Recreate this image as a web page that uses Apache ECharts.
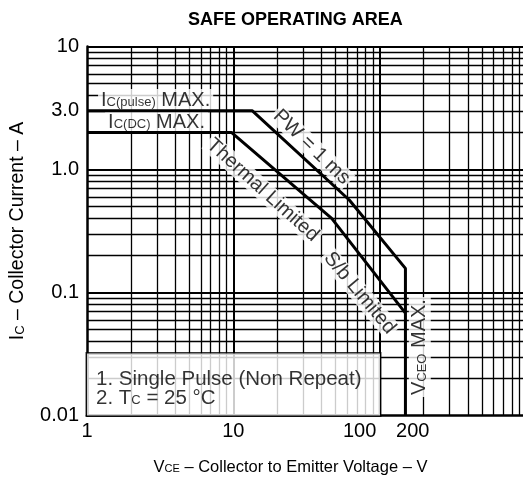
<!DOCTYPE html>
<html><head><meta charset="utf-8">
<script src="https://cdn.jsdelivr.net/npm/echarts@6/dist/echarts.min.js"></script>
<style>html,body{margin:0;padding:0;background:#fff}#c{width:523px;height:488px}</style>
</head><body><div id="c"></div>
<script>
const titleText = 'SAFE OPERATING AREA';
const xTickValues = [1, 10, 100, 200];
const xTickLabels = ['1', '10', '{l20|100}', '{l10|200}'];
const yTickValues = [0.01, 0.1, 1, 3, 10];
const yTickLabels = ['0.01', '0.1', '1.0', '3.0', '10'];
const xGridMinor = [2, 3, 4, 5, 6, 7, 8, 9, 20, 30, 40, 50, 60, 70, 80, 90, 200, 300, 400, 500, 600, 700, 800, 900];
const xGridMajor = [10, 100];
const yGridMinor = [0.02, 0.03, 0.04, 0.05, 0.06, 0.07, 0.08, 0.09, 0.2, 0.3, 0.4, 0.5, 0.6, 0.7, 0.8, 0.9, 2, 3, 4, 5, 6, 7, 8, 9];
const yGridMajor = [0.1, 1, 10];
// PW = 1 ms (pulse) boundary, ending in VCEO MAX vertical
const pulseV = [1, 13.5, 62, 150, 150];
const pulseI = [3.0, 3.0, 0.565, 0.157, 0.01];
// DC boundary (thermal limited, then S/b limited)
const dcV = [1, 9.7, 47, 150];
const dcI = [2.0, 2.0, 0.40, 0.068];
// annotations
const annoText = [
  '{m|I}{s|C(pulse)}{m| MAX.}',
  '{m|I}{s|C(DC)}{m| MAX.}',
  '{m|PW = 1 ms}',
  '{m|Thermal Limited}',
  '{m|S/b Limited}',
  '{m|V}{s|CEO}{m| MAX.}',
  '{n|1. Single Pulse (Non Repeat)}\n{n|2. T}{s|C}{n| = 25 °C}'
];
const annoV = [1.19, 1.33, 34.3, 15.9, 73, 188, 1];
const annoI = [3.67, 2.43, 1.52, 0.68, 0.099, 0.036, 0.01];

const FONT = 'Liberation Sans, Arial, Helvetica, sans-serif';
const rich = {
  m: {fontSize: 20, color: '#000', fontFamily: FONT},
  n: {fontSize: 20.5, color: '#000', fontFamily: FONT},
  s: {fontSize: 13, color: '#000', fontFamily: FONT, verticalAlign: 'bottom', padding: [0, 0, 1, 0]}
};
const richXName = {
  m: {fontSize: 16.5, color: '#000', fontFamily: FONT},
  s: {fontSize: 11, color: '#000', fontFamily: FONT, verticalAlign: 'bottom', padding: [0, 0, 1, 0]}
};
const richYName = {
  m: {fontSize: 19.5, color: '#000', fontFamily: FONT},
  s: {fontSize: 13, color: '#000', fontFamily: FONT, verticalAlign: 'bottom', padding: [0, 0, 1, 0]}
};
const richTick = {
  l20: {fontSize: 20, color: '#000', fontFamily: FONT, padding: [0, 40, 0, 0]},
  l10: {fontSize: 20, color: '#000', fontFamily: FONT, padding: [0, 22, 0, 0]}
};
function lookup(vals, labels, v) {
  let best = 0, bd = Infinity;
  vals.forEach((t, i) => { const d = Math.abs(Math.log10(t) - Math.log10(v)); if (d < bd) { bd = d; best = i; } });
  return bd < 0.01 ? labels[best] : '';
}
const annoStyles = [
  {align: 'left', verticalAlign: 'middle', rotate: 0, padding: [1, 3]},
  {align: 'left', verticalAlign: 'middle', rotate: 0, padding: [1, 3]},
  {align: 'center', verticalAlign: 'middle', rotate: -44, padding: [0, 2]},
  {align: 'center', verticalAlign: 'middle', rotate: -42, padding: [0, 2]},
  {align: 'center', verticalAlign: 'middle', rotate: -50, padding: [0, 2]},
  {align: 'center', verticalAlign: 'middle', rotate: 90, padding: [1, 2]},
  {align: 'left', verticalAlign: 'bottom', rotate: 0, padding: [16, 9, 8, 9], width: 275, lineHeight: 19, borderColor: '#000', borderWidth: 1.5}
];
const annoData = annoText.map((t, i) => ({
  value: [annoV[i], annoI[i]],
  label: Object.assign({show: true, position: 'inside', formatter: t, rich: rich, backgroundColor: '#fff'}, annoStyles[i])
}));
const gridLine = (arr, key, w) => arr.map(v => ({[key]: v, lineStyle: {width: w, color: '#000', type: 'solid'}}));

const chart = echarts.init(document.getElementById('c'), null, {renderer: 'canvas'});
chart.setOption({
  animation: false,
  backgroundColor: '#fff',
  title: {text: titleText, left: 183, top: 6, textStyle: {fontSize: 18, fontWeight: 'bold', color: '#000', fontFamily: FONT}},
  grid: {left: 87, top: 46.5, width: 439, height: 369, containLabel: false, outerBoundsMode: 'none'},
  xAxis: {
    type: 'log', logBase: 10, min: 1, max: 1000,
    axisLine: {show: true, lineStyle: {color: '#000', width: 2.5}},
    axisTick: {show: false}, splitLine: {show: false}, minorSplitLine: {show: false},
    axisLabel: {customValues: xTickValues, color: '#000', fontSize: 20, fontFamily: FONT, margin: 6, rich: richTick,
      formatter: v => lookup(xTickValues, xTickLabels, v)},
    name: '{m|V}{s|CE}{m| – Collector to Emitter Voltage – V}', nameLocation: 'middle', nameGap: 43,
    nameTextStyle: {rich: richXName, padding: [0, 32, 0, 0]}
  },
  yAxis: {
    type: 'log', logBase: 10, min: 0.01, max: 10,
    axisLine: {show: true, lineStyle: {color: '#000', width: 2.5}},
    axisTick: {show: false}, splitLine: {show: false},
    axisLabel: {customValues: yTickValues, color: '#000', fontSize: 20, fontFamily: FONT, margin: 8,
      formatter: v => lookup(yTickValues, yTickLabels, v)},
    name: '{m|I}{s|C}{m| – Collector Current – A}', nameLocation: 'middle', nameGap: 59,
    nameTextStyle: {rich: richYName}
  },
  series: [
    {
      type: 'line', name: 'grid', data: [], z: 1, silent: true,
      markLine: {
        z: 1, silent: true, symbol: ['none', 'none'], label: {show: false}, animation: false,
        data: [].concat(gridLine(xGridMinor, 'xAxis', 1.3), gridLine(xGridMajor, 'xAxis', 2),
                        gridLine(yGridMinor, 'yAxis', 1.3), gridLine(yGridMajor, 'yAxis', 2))
      }
    },
    {
      type: 'scatter', name: 'annotations', z: 3, silent: true, symbolSize: 0,
      itemStyle: {color: 'transparent'}, data: annoData
    },
    {
      type: 'line', name: 'PW = 1 ms', z: 5, symbol: 'none', silent: true,
      lineStyle: {color: '#000', width: 3},
      data: pulseV.map((v, i) => [v, pulseI[i]])
    },
    {
      type: 'line', name: 'DC', z: 5, symbol: 'none', silent: true,
      lineStyle: {color: '#000', width: 3},
      data: dcV.map((v, i) => [v, dcI[i]])
    }
  ]
});
</script></body></html>
